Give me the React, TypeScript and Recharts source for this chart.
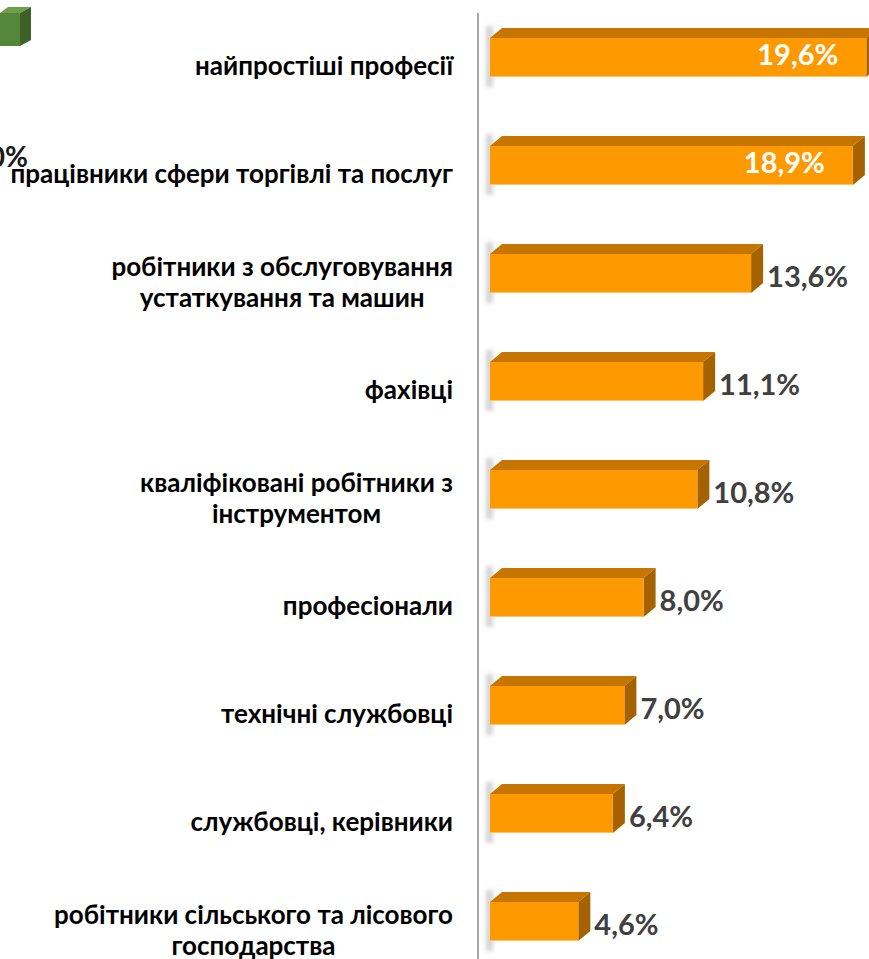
import React from "react"
import { BarChart, Bar, XAxis, YAxis, LabelList } from "recharts"

const categories = [
  "найпростіші професії",
  "працівники сфери торгівлі та послуг",
  "робітники з обслуговування\nустаткування та машин",
  "фахівці",
  "кваліфіковані робітники з\nінструментом",
  "професіонали",
  "технічні службовці",
  "службовці, керівники",
  "робітники сільського та лісового\nгосподарства",
]
const shares = [19.6, 18.9, 13.6, 11.1, 10.8, 8.0, 7.0, 6.4, 4.6]

const data = categories.map((name, i) => ({ name, value: shares[i] }))

const FONT = "Lato, 'Open Sans', sans-serif"
const TICK_SIZE = 26
const SHIFT = 12 // gap between axis wall and bar front
const DX = 12
const DY = 10

const fmt = (v: number) => v.toFixed(1).replace(".", ",") + "%"

let ctx: CanvasRenderingContext2D | null = null
function textWidth(s: string, size: number) {
  if (!ctx) ctx = document.createElement("canvas").getContext("2d")
  if (!ctx) return s.length * size * 0.5
  ctx.font = `700 ${size}px ${FONT}`
  return ctx.measureText(s).width
}

function Bar3D(props: any) {
  const { x, y, width, height } = props
  const fx = x + SHIFT
  const fy = y - 10
  const fh = height
  return (
    <g>
      <rect x={fx - 4} y={fy - 12} width={7} height={fh + 22} fill="#b0b0b0" opacity={0.55} filter="url(#blur)" />
      <polygon
        points={`${fx},${fy} ${fx + DX},${fy - DY} ${fx + width + DX},${fy - DY} ${fx + width},${fy}`}
        fill="#C67500"
      />
      <polygon
        points={`${fx + width},${fy} ${fx + width + DX},${fy - DY} ${fx + width + DX},${fy + fh - DY} ${fx + width},${fy + fh}`}
        fill="#A46200"
      />
      <rect x={fx} y={fy} width={width} height={fh} fill="#FF9900" />
      <line x1={fx} x2={fx + width} y1={fy + fh - 0.5} y2={fy + fh - 0.5} stroke="#FFC266" strokeWidth={1} />
    </g>
  )
}

function ValueLabel(props: any) {
  const { x, y, width, height, value } = props
  const front = x + SHIFT + width
  const mid = y - 10 + height / 2
  if (value > 15) {
    return (
      <text x={front - 28} y={mid - 4} textAnchor="end" dominantBaseline="central"
        fontFamily={FONT} fontWeight={700} fontSize={29} fill="#ffffff">
        {fmt(value)}
      </text>
    )
  }
  return (
    <text x={front + 16} y={mid + 2} textAnchor="start" dominantBaseline="central"
      fontFamily={FONT} fontWeight={700} fontSize={29} fill="#404040">
      {fmt(value)}
    </text>
  )
}

function CategoryTick(props: any) {
  const { x, y, payload } = props
  const lines = String(payload.value).split("\n")
  const lh = 31
  const right = x - 25
  const maxW = Math.max(...lines.map((l) => textWidth(l, TICK_SIZE)))
  const cx = right - maxW / 2
  const start = y - ((lines.length - 1) * lh) / 2 + 8
  return (
    <text textAnchor="middle" fontFamily={FONT} fontWeight={700} fontSize={TICK_SIZE} fill="#000">
      {lines.map((l, i) => (
        <tspan key={i} x={cx} y={start + i * lh}>{l}</tspan>
      ))}
    </text>
  )
}

export default function App() {
  return (
    <div style={{ position: "fixed", left: 0, top: 0, width: 869, height: 959, overflow: "hidden", background: "#fff" }}>
      <svg width={40} height={180} style={{ position: "absolute", left: 0, top: 0 }}>
        <polygon points="0,13 8,7 31,7 20,13" fill="#6E9E4C" />
        <polygon points="20,13 31,7 31,40 20,46" fill="#3D6127" />
        <rect x={0} y={13} width={20} height={33} fill="#55873A" />
        <text x={28} y={167} textAnchor="end" fontFamily={FONT} fontWeight={700} fontSize={28} fill="#1a1a1a">0%</text>
      </svg>
      <div style={{ position: "absolute", left: 0, top: 0 }}>
        <BarChart
          width={869}
          height={995}
          data={data}
          layout="vertical"
          margin={{ top: 13, right: 7, bottom: 10, left: 0 }}
          barSize={39}
        >
          <defs>
            <filter id="blur" x="-100%" y="-20%" width="300%" height="140%">
              <feGaussianBlur stdDeviation="2" />
            </filter>
          </defs>
          <XAxis type="number" domain={[0, 20]} hide />
          <YAxis
            type="category"
            dataKey="name"
            width={478}
            axisLine={{ stroke: "#A6A6A6", strokeWidth: 2 }}
            tickLine={false}
            tickSize={0}
            tickMargin={0}
            interval={0}
            tick={<CategoryTick />}
          />
          <Bar dataKey="value" shape={<Bar3D />} isAnimationActive={false}>
            <LabelList dataKey="value" content={<ValueLabel />} />
          </Bar>
        </BarChart>
      </div>
    </div>
  )
}
